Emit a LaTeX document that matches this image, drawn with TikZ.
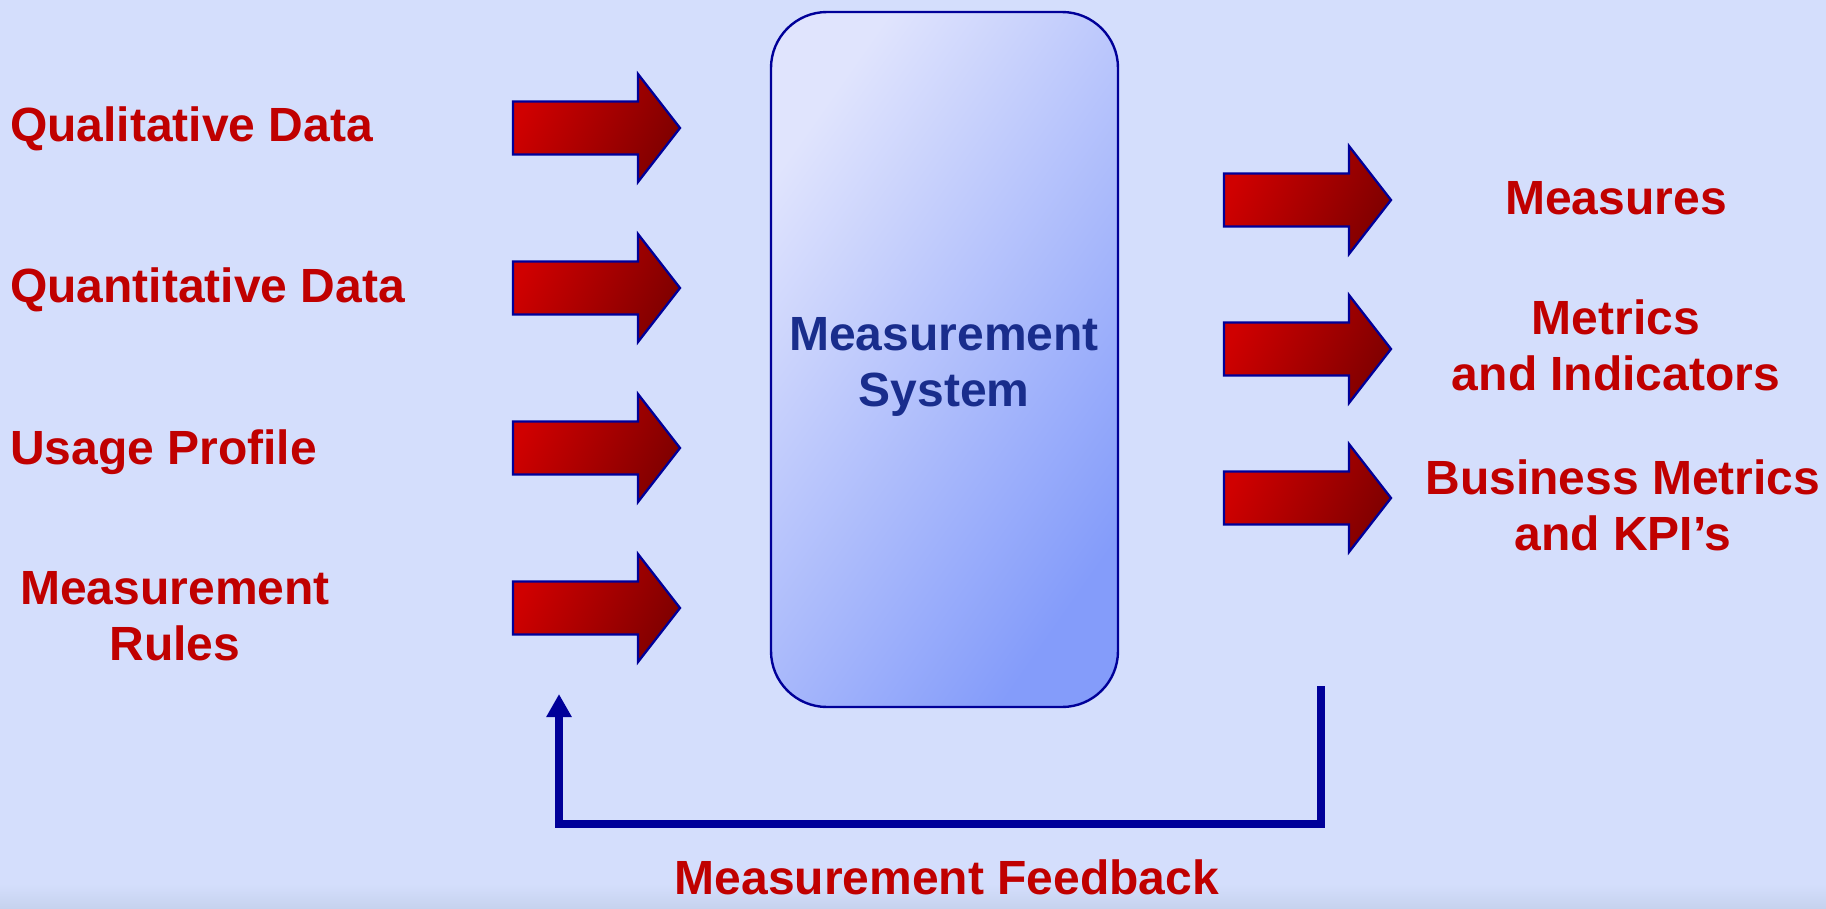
\documentclass[tikz,border=0pt]{standalone}
\usepackage{fontspec}
\setmainfont{Liberation Sans}
\usetikzlibrary{arrows.meta}
\definecolor{bg}{RGB}{212,222,252}
\definecolor{bgdark}{RGB}{198,210,238}
\definecolor{txtred}{RGB}{192,0,0}
\definecolor{navy}{RGB}{25,45,140}
\definecolor{lineblue}{RGB}{0,0,153}
\definecolor{boxlight}{RGB}{224,228,253}
\definecolor{boxdark}{RGB}{132,156,250}
\definecolor{redlight}{RGB}{208,0,0}
\definecolor{reddark}{RGB}{128,0,0}
\newcommand{\bigtext}{\fontsize{48}{56.5}\selectfont\bfseries}
\newcommand{\blockarrow}[3]{%
  \draw[blockarr] (#2,#3) ++(0,-26.5) -- ++(125,0) -- ++(0,-27.5) -- ++(42,54)
    coordinate (#1) -- ++(-42,54) -- ++(0,-27.5) -- ++(-125,0) -- cycle;}
\begin{document}
\begin{tikzpicture}[x=1pt,y=-1pt,
  lbl/.style={text=txtred, font=\bigtext, align=center, inner sep=0pt, text depth=0pt},
  blockarr/.style={draw=lineblue, line width=2.3pt, line join=miter,
    top color=redlight, bottom color=reddark, shading angle=65},
  msbox/.style={draw=lineblue, line width=2.4pt, rounded corners=56pt,
    minimum width=347pt, minimum height=695pt, inner sep=0pt,
    top color=boxlight, bottom color=boxdark, shading angle=55},
  fb/.style={draw=lineblue, line width=7.3pt, -{Triangle[length=23pt,width=24pt]}}]
\fill[bg] (0,0) rectangle (1826,908);
\shade[top color=bg, bottom color=bgdark] (0,884) rectangle (1826,908);
\useasboundingbox (0,0) rectangle (1826,908);

% central box
\node[msbox] (ms) at (944.5,359.5) {};
\node[lbl, text=navy] (mslabel) at (944,362) {Measurement\\System};

% inputs
\node[lbl, anchor=west] (qual) at (10,124) {Qualitative Data};
\node[lbl, anchor=west] (quant) at (10,285) {Quantitative Data};
\node[lbl, anchor=west] (usage) at (10,447) {Usage Profile};
\node[lbl] (rules) at (175,616) {Measurement\\Rules};

\blockarrow{a1}{513}{128}
\blockarrow{a2}{513}{288}
\blockarrow{a3}{513}{448}
\blockarrow{a4}{513}{608}

% outputs
\blockarrow{b1}{1224}{200}
\blockarrow{b2}{1224}{349}
\blockarrow{b3}{1224}{498}

\node[lbl] (measures) at (1616,198) {Measures};
\node[lbl] (metrics) at (1616,345) {Metrics\\and Indicators};
\node[lbl] (kpi) at (1623,505) {Business Metrics\\and KPI’s};

% feedback
\coordinate (fbstart) at (1321,686);
\coordinate (fbcorner) at (1321,824);
\coordinate (fbend) at (559,694);
\draw[fb] (fbstart) -- (fbcorner) -| (fbend);
\node[lbl] (fblabel) at (947,877) {Measurement Feedback};
\end{tikzpicture}
\end{document}
